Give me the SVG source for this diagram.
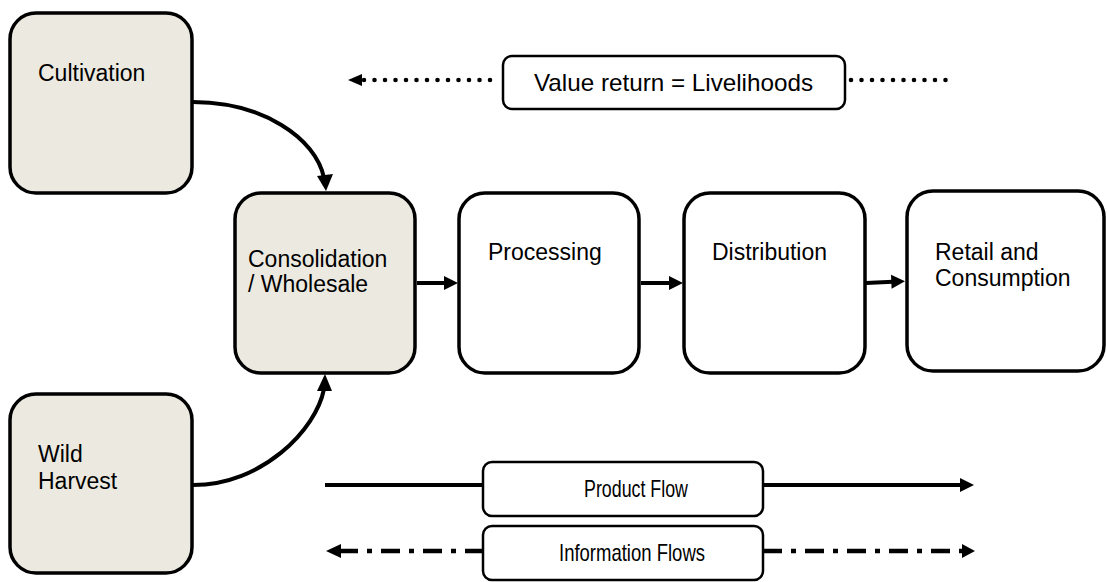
<svg xmlns="http://www.w3.org/2000/svg" width="1107" height="582" viewBox="0 0 1107 582">
<defs>
<style>
.box{stroke:#000;stroke-width:3.5;}
.src{fill:#ECEAE0;}
.plain{fill:#fff;}
.lbl{fill:#fff;stroke:#000;stroke-width:2.5;}
.t{font-family:"Liberation Sans",Arial,sans-serif;font-size:23px;fill:#000;}
.ft{font-family:"Liberation Sans",Arial,sans-serif;font-size:24px;fill:#000;}
.ln{fill:none;stroke:#000;stroke-width:4;}
.hd{fill:#000;stroke:none;}
.dot{fill:none;stroke:#000;stroke-width:4.6;stroke-linecap:round;stroke-dasharray:0 10.5;}
.dd{fill:none;stroke:#000;stroke-width:4.5;stroke-dasharray:19 9 5 9;}
</style>
</defs>
<rect width="1107" height="582" fill="#fff"/>

<g id="connectors">
<path class="ln" d="M193,102 C262,102 316,138 324,178"/>
<polygon class="hd" points="317,176 333,174 326,191"/>
<path class="ln" d="M193,485 C262,485 316,430 324,389"/>
<polygon class="hd" points="317,391 332,391 325,374"/>
<path class="ln" d="M417,283 L446,283"/>
<polygon class="hd" points="444,276 458,283 444,290"/>
<path class="ln" d="M641,283 L670,283"/>
<polygon class="hd" points="669,276 683,283 669,290"/>
<path class="ln" d="M866,283 L893,281.8"/>
<polygon class="hd" points="891,274.8 905,281.2 891.6,288.8"/>
</g>

<g id="legend-value">
<path class="dot" d="M364,80 L497,80"/>
<polygon class="hd" points="348,80 362,74 362,86"/>
<path class="dot" d="M851,80 L956,80"/>
<rect class="lbl" x="503" y="56" width="342" height="53" rx="9"/>
<text class="ft" x="673.5" y="91" text-anchor="middle" textLength="279" lengthAdjust="spacingAndGlyphs">Value return = Livelihoods</text>
</g>

<g id="legend-product">
<path class="ln" d="M325,485 L483,485"/>
<path class="ln" d="M763,485 L961,485"/>
<polygon class="hd" points="974,485 960,478 960,492"/>
<rect class="lbl" x="483" y="462" width="280" height="54" rx="9"/>
<text class="ft" x="636" y="497" text-anchor="middle" textLength="104" lengthAdjust="spacingAndGlyphs">Product Flow</text>
</g>

<g id="legend-info">
<path class="dd" d="M339,551 L483,551"/>
<polygon class="hd" points="326,551 341,544 341,558"/>
<path class="dd" d="M763,551 L962,551"/>
<polygon class="hd" points="975,551 962,544 962,558"/>
<rect class="lbl" x="483" y="526" width="280" height="54" rx="9"/>
<text class="ft" x="632" y="561" text-anchor="middle" textLength="146" lengthAdjust="spacingAndGlyphs">Information Flows</text>
</g>

<g id="cultivation">
<rect class="box src" x="10" y="13" width="182" height="180" rx="26"/>
<text class="t" x="38" y="81">Cultivation</text>
</g>

<g id="wild-harvest">
<rect class="box src" x="10" y="394" width="182" height="179" rx="26"/>
<text class="t" x="38" y="462">Wild</text>
<text class="t" x="38" y="489">Harvest</text>
</g>

<g id="consolidation">
<rect class="box src" x="235" y="193" width="180" height="180" rx="26"/>
<text class="t" x="248" y="267">Consolidation</text>
<text class="t" x="248" y="292">/ Wholesale</text>
</g>

<g id="processing">
<rect class="box plain" x="459" y="193" width="180" height="180" rx="26"/>
<text class="t" x="488" y="260">Processing</text>
</g>

<g id="distribution">
<rect class="box plain" x="684" y="193" width="181" height="180" rx="26"/>
<text class="t" x="712" y="260">Distribution</text>
</g>

<g id="retail">
<rect class="box plain" x="907" y="191" width="197" height="180" rx="26"/>
<text class="t" x="935" y="260">Retail and</text>
<text class="t" x="935" y="286">Consumption</text>
</g>
</svg>
